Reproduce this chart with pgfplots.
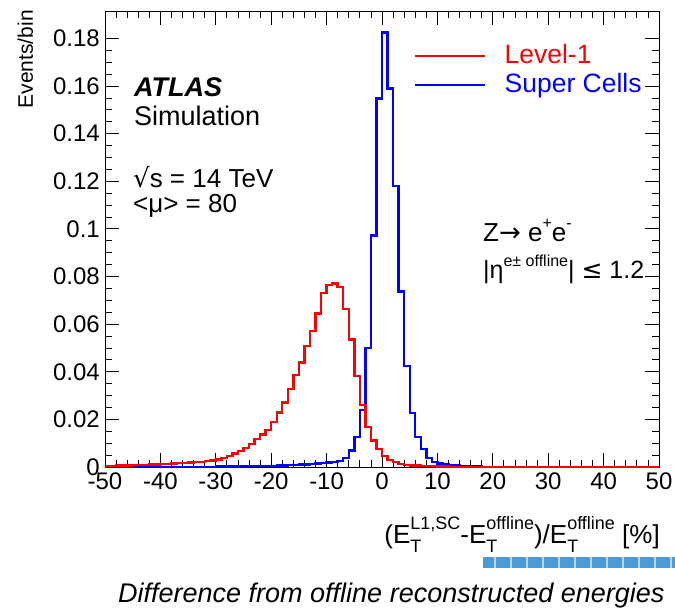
\documentclass[border=0pt]{standalone}
\usepackage{pgfplots}
\pgfplotsset{compat=1.18}
\usepackage{pgfplotstable}
\usepackage{fontspec}
\setmainfont{Liberation Sans}
\newfontfamily\dejavu{DejaVu Sans}
\newcommand\fs[1]{\fontsize{#1}{#1}\selectfont}
\newcommand\sups[1]{\raisebox{0.5em}{\fs{16}#1}}
\newcommand\ET[1]{E\makebox[0pt][l]{\raisebox{-0.34em}{\fs{18}T}}\raisebox{0.55em}{\fs{18}#1}}

\pgfplotstableread{
x red blue
-50 0.0005 0.0001
-49 0.0005 0.0001
-48 0.0006 0.0001
-47 0.0006 0.0001
-46 0.0007 0.0001
-45 0.0008 0.0001
-44 0.0008 0.0001
-43 0.0009 0.0001
-42 0.0010 0.0001
-41 0.0011 0.0001
-40 0.0012 0.0001
-39 0.0013 0.0001
-38 0.0014 0.0001
-37 0.0016 0.0001
-36 0.0017 0.0001
-35 0.0019 0.0001
-34 0.0020 0.0001
-33 0.0022 0.0001
-32 0.0024 0.0001
-31 0.0027 0.0001
-30 0.0031 0.0002
-29 0.0039 0.0002
-28 0.0046 0.0002
-27 0.0056 0.0002
-26 0.0067 0.0002
-25 0.0081 0.0002
-24 0.0097 0.0003
-23 0.0117 0.0003
-22 0.0137 0.0004
-21 0.0155 0.0004
-20 0.0190 0.0005
-19 0.0229 0.0006
-18 0.0271 0.0007
-17 0.0327 0.0008
-16 0.0387 0.0009
-15 0.0439 0.0010
-14 0.0508 0.0011
-13 0.0570 0.0013
-12 0.0645 0.0015
-11 0.0730 0.0017
-10 0.0765 0.0019
-9 0.0770 0.0021
-8 0.0757 0.0026
-7 0.0664 0.0037
-6 0.0535 0.0069
-5 0.0381 0.0126
-4 0.0260 0.0239
-3 0.0169 0.0499
-2 0.0112 0.0972
-1 0.0075 0.1547
0 0.0047 0.1824
1 0.0030 0.1589
2 0.0020 0.1179
3 0.0013 0.0737
4 0.0009 0.0423
5 0.0007 0.0227
6 0.0006 0.0125
7 0.0005 0.0076
8 0.0004 0.0037
9 0.0003 0.0022
10 0.0002 0.0015
11 0.0002 0.0011
12 0.0001 0.0009
13 0.0001 0.0007
14 0.0001 0.0005
15 0.0001 0.0004
16 0.0001 0.0003
17 0.0001 0.0002
18 0.0001 0.0001
19 0.0001 0.0000
20 0.0001 0.0000
21 0.0001 0.0000
22 0.0000 0.0000
23 0.0000 0.0000
24 0.0000 0.0000
25 0.0000 0.0000
26 0.0000 0.0000
27 0.0000 0.0000
28 0.0000 0.0000
29 0.0000 0.0000
30 0.0000 0.0000
31 0.0000 0.0000
32 0.0000 0.0000
33 0.0000 0.0000
34 0.0000 0.0000
35 0.0000 0.0000
36 0.0000 0.0000
37 0.0000 0.0000
38 0.0000 0.0000
39 0.0000 0.0000
40 0.0000 0.0000
41 0.0000 0.0000
42 0.0000 0.0000
43 0.0000 0.0000
44 0.0000 0.0000
45 0.0000 0.0000
46 0.0000 0.0000
47 0.0000 0.0000
48 0.0000 0.0000
49 0.0000 0.0000
50 0.0000 0.0000
}\histdata

\begin{document}
\begin{tikzpicture}[every node/.style={inner sep=0pt}]
\path[use as bounding box] (-105pt,-145pt) rectangle (570pt,467pt);
\begin{axis}[
  scale only axis, width=554pt, height=456pt,
  xmin=-50, xmax=50, ymin=0, ymax=0.1915,
  xtick={-50,-40,-30,-20,-10,0,10,20,30,40,50},
  xticklabels={-50,-40,-30,-20,-10,0,10,20,30,40,50},
  ytick={0,0.02,0.04,0.06,0.08,0.1,0.12,0.14,0.16,0.18},
  yticklabels={0,0.02,0.04,0.06,0.08,0.1,0.12,0.14,0.16,0.18},
  minor x tick num=4, minor y tick num=3,
  tick align=inside, tick pos=both, xticklabel pos=lower, yticklabel pos=left,
  major tick length=14pt, minor tick length=7pt,
  every tick/.style={black, line width=0.8pt},
  axis line style={line width=0.8pt},
  ticklabel style={font=\fs{24}},
  xticklabel style={inner sep=0pt, anchor=north, yshift=-6pt},
  yticklabel style={inner sep=0pt, anchor=east, xshift=-5pt},
  legend style={draw=none, fill=none, font=\fs{26.5}, at={(0.5578,0.93)}, anchor=north west, inner sep=0pt,
     nodes={inner sep=0pt, text height=20pt, text depth=6pt}, row sep=3pt, column sep=18pt},
  legend image code/.code={\draw[#1] (0pt,0pt) -- (70pt,0pt);},
  legend cell align=left,
  reverse legend,
  clip=false,
]
\addplot[blue, line width=2.4pt, const plot] table[x=x, y=blue] {\histdata};
\addlegendentry{\textcolor{blue}{Super Cells}}
\addplot[red, line width=2.4pt, const plot] table[x=x, y=red] {\histdata};
\addlegendentry{\textcolor{red}{Level-1}}
\end{axis}
\node[rotate=90, anchor=base east, font=\fs{21}] at (-72pt,457pt) {Events/bin};
\node[anchor=base west, font=\fs{27}\bfseries\itshape] at (29pt,370pt) {ATLAS};
\node[anchor=base west, font=\fs{27}] at (29pt,341pt) {Simulation};
\node[anchor=base west, font=\fs{26}] at (28pt,279pt) {{\dejavu √}s = 14 TeV};
\node[anchor=base west, font=\fs{26}] at (28pt,254pt) {<μ> = 80};
\node[anchor=base west, font=\fs{26}] at (378pt,225pt) {Z{\dejavu →} e\sups{+}e\sups{-}};
\node[anchor=base west, font=\fs{25}] at (378pt,188pt) {|η\sups{e± offline}| {\dejavu ≤} 1.2};
\node[anchor=base east, font=\fs{26}] at (555pt,-77pt) {(\ET{L1,SC}-\ET{offline})/\ET{offline} [\%]};
\fill[color={rgb,255:red,75;green,155;blue,215}] (378pt,-90pt) rectangle (570pt,-101pt);
\foreach \i in {0,...,11} {\draw[white, opacity=0.6, line width=1.5pt] ({390pt+\i*16pt},-90pt) -- ++(0,-11pt);}
\node[anchor=base west, font=\fs{27}\itshape] at (13pt,-136pt) {Difference from offline reconstructed energies};
\end{tikzpicture}
\end{document}
